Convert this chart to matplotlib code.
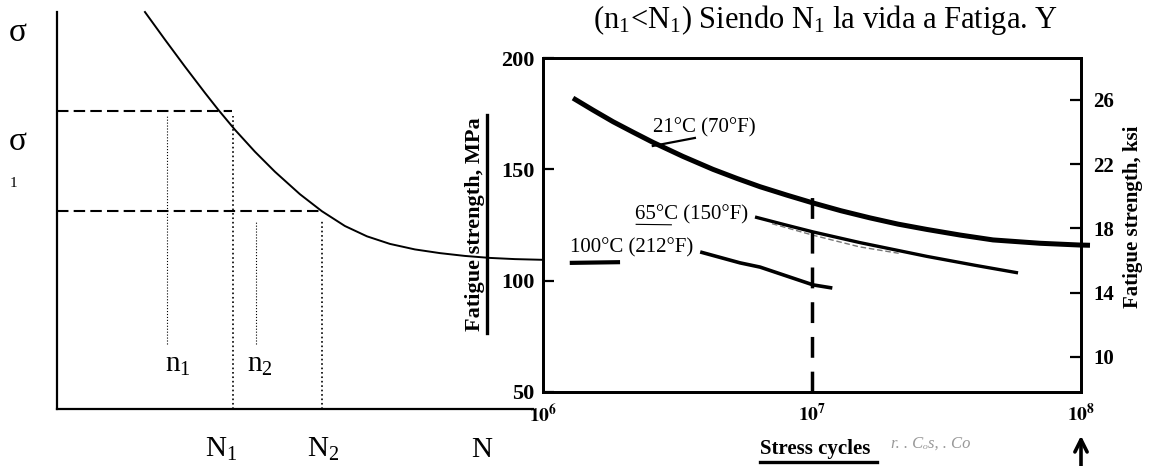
import numpy as np
import matplotlib.pyplot as plt

plt.rcParams['font.family'] = ['Liberation Serif', 'DejaVu Serif']
plt.rcParams['mathtext.fontset'] = 'stix'
plt.rcParams['mathtext.default'] = 'regular'

# --- schematic S-N curve (arbitrary units, 0..10 on both axes)
sketch_n = [1.849, 2.269, 2.689, 3.109, 3.382, 3.739, 4.160, 4.580, 5.105, 5.567,
            6.050, 6.513, 6.996, 7.521, 8.046, 8.571, 9.097, 9.622, 10.21]
sketch_s = [10.0, 9.305, 8.625, 7.965, 7.549, 7.035, 6.481, 5.977, 5.411, 4.982,
            4.610, 4.350, 4.159, 4.020, 3.927, 3.856, 3.806, 3.776, 3.758]
sigma_levels = [7.51, 4.99]
sigma_ends = [3.68, 5.53]
life_n = [3.70, 5.57]      # N1, N2
life_top = [7.38, 4.74]
cycles_n = [2.31, 4.18]    # n1, n2
cycles_top = [7.38, 4.74]
cycles_bottom = 1.64

# --- fatigue strength vs stress cycles (scanned chart)
cycles_21 = [1.293e6, 1.535e6, 1.821e6, 2.161e6, 2.565e6, 3.314e6, 4.285e6, 5.263e6,
             6.409e6, 8.074e6, 1.009e7, 1.282e7, 1.643e7, 2.088e7, 2.676e7, 3.549e7,
             4.709e7, 7.04e7, 9.915e7, 1.08e8]
mpa_21 = [182.0, 176.6, 171.4, 166.7, 162.1, 155.8, 150.0, 145.9, 142.2, 138.4,
          134.9, 131.4, 128.2, 125.4, 123.0, 120.5, 118.3, 116.8, 116.0, 115.9]
cycles_65 = [6.14e6, 7.936e6, 1.009e7, 1.507e7, 2.123e7, 2.676e7, 4.04e7, 5.834e7]
mpa_65 = [128.6, 125.1, 121.9, 117.1, 113.4, 110.9, 106.9, 103.5]
cycles_65b = [7.1e6, 1.01e7, 1.5e7, 2.1e7]
mpa_65b = [125.6, 120.4, 115.2, 112.3]
cycles_100 = [3.84e6, 5.40e6, 6.41e6, 1.01e7, 1.19e7]
mpa_100 = [112.9, 108.0, 106.1, 98.1, 96.7]
mpa_ticks = [50, 100, 150, 200]
ksi_ticks = [10, 14, 18, 22, 26]
cycle_ticks = [1e6, 1e7, 1e8]
cycle_labels = [r'$\mathbf{10^6}$', r'$\mathbf{10^7}$', r'$\mathbf{10^8}$']

fig = plt.figure(figsize=(11.6, 4.66), dpi=100)

# ---------------- schematic ----------------
ax0 = fig.add_axes([0.0491, 0.1223, 0.4103, 0.8519])
ax0.set_xlim(0, 10)
ax0.set_ylim(0, 10)
ax0.patch.set_visible(False)
for s in ['top', 'right']:
    ax0.spines[s].set_visible(False)
for s in ['left', 'bottom']:
    ax0.spines[s].set_linewidth(1.6)
ax0.set_xticks([])
ax0.set_yticks([])

ax0.plot(sketch_n, sketch_s, color='k', lw=1.4, clip_on=False)
for lev, end in zip(sigma_levels, sigma_ends):
    ax0.plot([0, end], [lev, lev], color='k', lw=1.5, dashes=(5.5, 2.5))
for x, top in zip(life_n, life_top):
    ax0.plot([x, x], [0, top], color='k', lw=1.2, ls=':')
for x, top in zip(cycles_n, cycles_top):
    ax0.plot([x, x], [cycles_bottom, top], color='k', lw=0.8, ls=':')

fs = 22
ax0.text(-0.82, 9.47, 'σ', fontsize=24, ha='center', va='center', clip_on=False)
ax0.text(-0.82, 6.73, 'σ', fontsize=24, ha='center', va='center', clip_on=False)
ax0.text(-0.92, 5.69, '1', fontsize=11, ha='center', va='center', clip_on=False)
ax0.text(2.27, 1.11, 'n$_1$', fontsize=21, ha='left', va='center')
ax0.text(3.99, 1.11, 'n$_2$', fontsize=21, ha='left', va='center')
ax0.text(3.45, -1.02, 'N$_1$', fontsize=21, ha='center', va='center', clip_on=False)
ax0.text(5.59, -1.02, 'N$_2$', fontsize=21, ha='center', va='center', clip_on=False)
ax0.text(8.93, -1.02, 'N', fontsize=21, ha='center', va='center', clip_on=False)

fig.text(0.511, 0.957, '(n$_1$<N$_1$) Siendo N$_1$ la vida a Fatiga. Y',
         fontsize=fs, ha='left', va='center')

# ---------------- fatigue chart ----------------
ax = fig.add_axes([0.4681, 0.1588, 0.4638, 0.7167])
ax.set_xscale('log')
ax.set_xlim(1e6, 1e8)
ax.set_ylim(50, 200)
ax.patch.set_visible(False)
for s in ax.spines.values():
    s.set_linewidth(2.0)

ax.plot(cycles_21, mpa_21, color='k', lw=3.6, solid_capstyle='butt', clip_on=False)
ax.plot(cycles_65, mpa_65, color='k', lw=2.4, solid_capstyle='butt')
ax.plot(cycles_65b, mpa_65b, color='#777777', lw=1.0, dashes=(4, 2))
ax.plot(cycles_100, mpa_100, color='k', lw=2.6, solid_capstyle='butt')
ax.plot([1e7, 1e7], [50, 141], color='k', lw=2.5, dashes=(6, 4))

lab_font = dict(fontsize=15, ha='left', va='center')
ax.text(2.56e6, 168.6, '21°C (70°F)', **lab_font)
ax.plot([2.56e6, 3.67e6], [160.5, 164.1], color='k', lw=1.6)
ax.text(2.2e6, 129.5, '65°C (150°F)', **lab_font)
ax.plot([2.22e6, 3.0e6], [125.3, 125.1], color='k', lw=0.8)
ax.text(1.26e6, 114.7, '100°C (212°F)', **lab_font)
ax.plot([1.28e6, 1.9e6], [108.0, 108.3], color='k', lw=3.0)

ax.set_xticks(cycle_ticks)
ax.set_xticklabels(cycle_labels, fontsize=14)
ax.xaxis.set_minor_locator(plt.NullLocator())
ax.tick_params(axis='x', length=0, pad=8)
ax.set_yticks(mpa_ticks)
ax.set_yticklabels([str(v) for v in mpa_ticks], fontsize=16, fontweight='bold')
ax.tick_params(axis='y', direction='in', length=8, width=1.6, pad=6)

ax.text(-0.126, 0.503, 'Fatigue strength, MPa', transform=ax.transAxes, rotation=90,
        fontsize=16, fontweight='bold', ha='center', va='center')
ax.plot([-0.104, -0.104], [0.177, 0.829], transform=ax.transAxes, color='k', lw=2.4,
        clip_on=False)

ax2 = ax.twinx()
ax2.set_ylim(7.82, 28.6)
ax2.set_yticks(ksi_ticks)
ax2.set_yticklabels([str(v) for v in ksi_ticks], fontsize=15, fontweight='bold')
ax2.tick_params(axis='y', direction='in', length=8, width=1.6, pad=9)
for s in ax2.spines.values():
    s.set_linewidth(2.0)
ax2.text(1.097, 0.524, 'Fatigue strength, ksi', transform=ax2.transAxes, rotation=90,
         fontsize=15, fontweight='bold', ha='center', va='center')

fig.text(0.655, 0.036, 'Stress cycles', fontsize=15, fontweight='bold', ha='left', va='center')
fig.lines.append(plt.Line2D([0.655, 0.756], [0.008, 0.008], transform=fig.transFigure,
                            color='k', lw=2.4))
fig.text(0.768, 0.047, 'r. . C\u2092s, . Co', fontsize=12, color='#999999',
         ha='left', va='center', style='italic')
ax.annotate('', xy=(1e8, 0.071), xycoords=('data', 'figure fraction'),
            xytext=(1e8, -0.01), textcoords=('data', 'figure fraction'),
            arrowprops=dict(arrowstyle='->', lw=2.6, color='k', mutation_scale=22))

fig.savefig('out.png', dpi=100)
